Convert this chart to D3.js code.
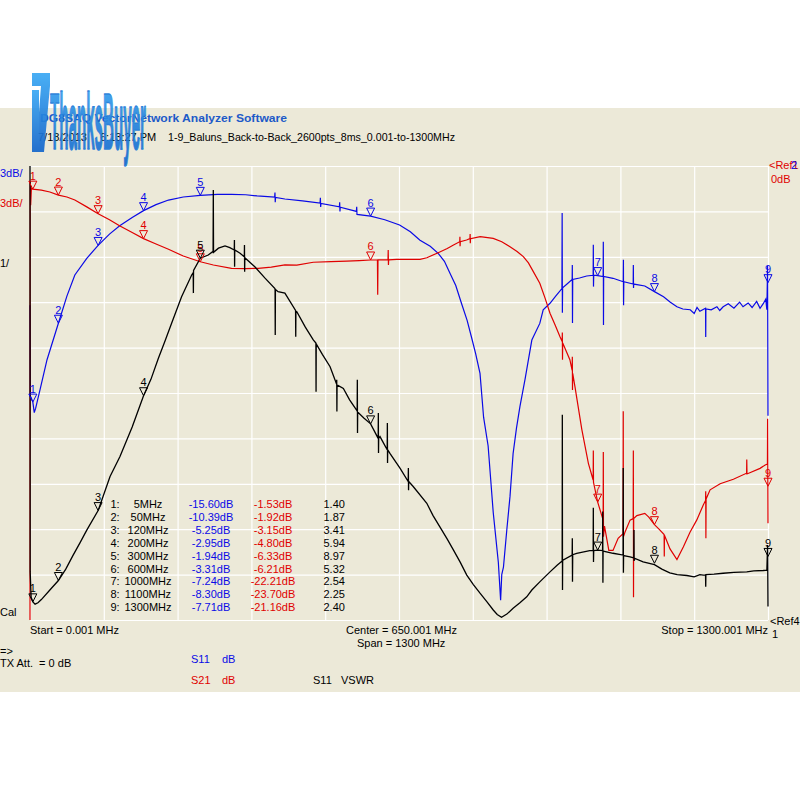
<!DOCTYPE html>
<html><head><meta charset="utf-8">
<script src="https://cdn.jsdelivr.net/npm/d3@7"></script>
<style>
body{margin:0;background:#fff}
svg{display:block}
text{font-family:"Liberation Sans",Arial,sans-serif}
</style>
</head><body><svg id="c" width="800" height="800"></svg>
<script>
// ---- Data (MHz, dB / VSWR) ----
const markerFreqs=[5,50,120,200,300,600,1000,1100,1300];
const markerS11=[-15.60,-10.39,-5.25,-2.95,-1.94,-3.31,-7.24,-8.30,-7.71];
const markerS21=[-1.53,-1.92,-3.15,-4.80,-6.33,-6.21,-22.21,-23.70,-21.16];
const markerVswr=[1.40,1.87,3.41,5.94,8.97,5.32,2.54,2.25,2.40];

const s11Trace=[[0,-9.2],[0.5,-15.2],[2,-15.3],[5,-15.6],[7.5,-16.3],[10,-16.0],[17.6,-14.8],[30,-12.8],[50,-10.39],[65,-8.6],[79,-7.2],[100,-6.1],[120,-5.25],[140,-4.5],[158,-3.95],[180,-3.4],[200,-2.95],[222,-2.55],[244,-2.25],[270,-2.05],[300,-1.94],[330,-1.88],[355,-1.87],[380,-1.9],[400,-1.98],[431,-2.05],[431.5,-1.75],[432,-2.4],[432.5,-2.08],[449,-2.18],[480,-2.3],[511,-2.45],[511.5,-2.1],[512,-2.7],[512.5,-2.47],[545,-2.7],[545.5,-2.4],[546,-3.0],[546.5,-2.72],[575,-3.0],[575.5,-2.7],[576,-3.2],[600,-3.31],[625,-3.55],[651,-3.9],[670,-4.35],[687,-4.9],[705,-5.3],[719,-5.77],[730,-6.3],[740,-7.1],[750,-7.9],[760,-9.07],[770,-10.2],[777.6,-11.3],[785,-12.4],[792.7,-13.7],[799,-16.6],[807,-18.5],[816,-22.9],[825,-26.2],[829,-28.7],[831,-27.0],[834,-26.5],[840,-24.0],[845.5,-21.85],[851,-19.0],[857,-17.3],[863,-15.9],[872,-14.1],[878,-12.8],[884,-11.5],[898,-10.4],[904,-9.5],[916,-9.07],[926,-8.6],[937,-8.1],[937.4,-3.1],[937.8,-9.7],[938.2,-8.05],[946,-7.8],[955,-7.5],[955.3,-6.54],[955.6,-10.37],[956,-7.5],[968,-7.4],[980.6,-7.27],[992,-7.22],[992.3,-5.2],[992.6,-7.97],[993,-7.22],[1000,-7.24],[1009.6,-7.3],[1009.9,-5.0],[1010.2,-10.5],[1010.5,-7.3],[1027,-7.42],[1045,-7.65],[1045.3,-6.2],[1045.6,-9.2],[1046,-7.65],[1057,-7.75],[1062.5,-7.8],[1062.8,-6.54],[1063.1,-8.06],[1063.4,-7.8],[1083,-7.93],[1100,-8.30],[1116,-8.64],[1128,-9.0],[1139.6,-9.3],[1150,-9.45],[1163,-9.5],[1170,-9.75],[1175,-9.35],[1180,-9.6],[1190,-9.4],[1190.3,-11.3],[1190.6,-9.45],[1200,-9.5],[1210,-9.3],[1215,-9.55],[1221,-9.3],[1230,-9.1],[1240,-9.4],[1250,-9.0],[1256,-9.3],[1265,-9.05],[1272,-9.35],[1280,-8.95],[1286,-9.4],[1291.6,-9.1],[1296,-8.8],[1298,-9.5],[1299.3,-6.6],[1300,-16.5]];

const s21Trace=[[0,-30],[0.3,-1.0],[1.2,-2.6],[2.5,-1.45],[5,-1.53],[20,-1.6],[35,-1.72],[50,-1.92],[65,-2.05],[79,-2.25],[100,-2.7],[120,-3.15],[140,-3.55],[158.5,-3.96],[180,-4.4],[200,-4.80],[222,-5.15],[244,-5.5],[270,-5.95],[300,-6.33],[323,-6.54],[355,-6.76],[380,-6.78],[402,-6.76],[425,-6.68],[449,-6.54],[470,-6.55],[499,-6.36],[530,-6.32],[558,-6.28],[580,-6.25],[600,-6.21],[612,-6.2],[612.5,-8.5],[613,-6.2],[630.6,-6.2],[631,-5.55],[631.4,-6.54],[631.8,-6.2],[646,-6.17],[687,-6.17],[699,-6.06],[719,-5.73],[735,-5.45],[746,-5.22],[757,-5.0],[757.3,-4.67],[757.6,-5.3],[758,-5.0],[769,-4.89],[775,-4.8],[775.3,-4.5],[775.6,-5.1],[776,-4.8],[793,-4.67],[816,-4.78],[831,-5.0],[845.5,-5.33],[858,-5.65],[869,-5.99],[878,-6.4],[886.6,-6.98],[898,-7.75],[907,-8.7],[916,-9.73],[925,-10.5],[933.6,-11.28],[937.4,-11.6],[937.7,-11.0],[938,-12.8],[938.4,-11.7],[951,-12.8],[955,-13.5],[955.3,-12.6],[955.6,-14.8],[956,-13.7],[960,-14.6],[966,-16.0],[972,-17.4],[983.6,-19.65],[992,-20.75],[992.3,-18.8],[992.6,-20.9],[1000,-22.21],[1009.6,-23.4],[1009.9,-18.9],[1010.2,-24.5],[1012,-23.8],[1019.6,-25.4],[1027,-25.4],[1036,-24.6],[1044.7,-24.3],[1045,-16.2],[1045.3,-24.5],[1048,-24.2],[1057,-23.4],[1062.5,-23.3],[1062.8,-18.8],[1063.1,-28.5],[1063.4,-23.3],[1069,-23.1],[1083,-22.95],[1090,-23.2],[1100,-23.7],[1108,-24.0],[1117,-24.35],[1117.3,-25.8],[1117.6,-24.4],[1127.4,-25.3],[1139.6,-26.0],[1151,-25.16],[1162.6,-24.2],[1174.4,-23.4],[1186,-22.4],[1190,-22.1],[1190.3,-21.5],[1190.6,-24.6],[1191,-22.0],[1198,-21.4],[1215.7,-21.0],[1239,-20.7],[1262.3,-20.3],[1262.6,-19.4],[1263,-20.35],[1286,-19.98],[1295,-19.76],[1299,-19.7],[1299.3,-16.7],[1300,-23.6]];

const vswrTrace=[[0,11.8],[0.3,2.06],[2,1.5],[5,1.40],[9,1.35],[14,1.38],[20,1.45],[35,1.66],[50,1.87],[63,2.12],[76,2.43],[88,2.7],[100,2.98],[120,3.41],[141,4.16],[158.5,4.6],[180,5.25],[200,5.94],[213,6.3],[226,6.76],[238,7.15],[249.6,7.54],[267,8.12],[284.8,8.6],[287.5,8.65],[287.8,8.2],[288.1,8.7],[300,8.97],[314,9.04],[322.5,9.12],[322.9,10.47],[323.3,9.1],[332,9.19],[343.5,9.24],[352,9.2],[359.8,9.15],[360.1,9.37],[360.4,8.78],[360.7,9.15],[370,9.08],[377.5,9.0],[377.8,9.26],[378.1,8.67],[378.4,8.98],[396,8.78],[414,8.53],[431.4,8.3],[431.7,8.27],[432,7.28],[432.3,8.28],[437,8.23],[449,8.2],[467.8,7.82],[468.1,7.24],[468.4,7.8],[470,7.79],[485,7.45],[499,7.17],[503.6,7.1],[503.9,6.03],[504.2,7.08],[515,6.85],[528.6,6.58],[540,6.2],[540.3,6.29],[540.6,5.59],[540.9,6.18],[552,6.1],[563,5.85],[575,5.63],[576.3,5.6],[576.6,6.29],[576.9,5.12],[577.2,5.58],[588,5.45],[600,5.32],[613.3,5.0],[613.6,5.56],[613.9,4.68],[614.2,5.0],[616.5,5.04],[629.2,4.75],[629.5,5.34],[629.8,4.46],[630.1,4.75],[634,4.67],[652,4.34],[666.2,4.05],[666.5,4.35],[666.8,3.86],[667.1,4.05],[675,3.94],[699,3.57],[710,3.3],[722,3.05],[735,2.78],[746,2.54],[758,2.27],[769.4,1.99],[781,1.78],[792.7,1.59],[805,1.4],[816,1.22],[823,1.12],[830.6,1.06],[840,1.13],[851,1.26],[863,1.38],[875,1.51],[884,1.66],[898,1.84],[907,1.95],[916,2.06],[928,2.2],[937.4,2.3],[937.7,5.52],[938,1.66],[938.3,2.32],[939,2.32],[955,2.43],[955.3,2.8],[955.6,1.84],[956,2.44],[963,2.47],[986,2.53],[992,2.53],[992.3,3.47],[992.6,2.28],[993,2.53],[1000,2.54],[1008.6,2.53],[1008.9,3.39],[1009.2,1.82],[1009.5,2.52],[1027,2.47],[1044.7,2.43],[1045,4.35],[1045.3,2.04],[1045.6,2.42],[1057,2.39],[1063.6,2.37],[1063.9,2.98],[1064.2,2.3],[1064.5,2.36],[1080,2.28],[1100,2.22],[1113,2.12],[1127,2.04],[1140,2.0],[1157,1.98],[1170,1.95],[1180,2.0],[1186,1.99],[1190,1.99],[1190.3,1.73],[1190.6,2.0],[1205,2.01],[1221,2.03],[1240,2.05],[1262.6,2.06],[1275,2.08],[1291.6,2.09],[1298,2.1],[1299.3,2.65],[1300,1.3]];

const xGridTicks=[0,130,260,390,520,650,780,910,1040,1170,1300];
const dbGridTicks=[0,-3,-6,-9,-12,-15,-18,-21,-24,-27,-30];

// ---- Layout ----
const svg=d3.select("#c");
const L=30,R=768,T=166,B=620;
const x=d3.scaleLinear().domain([0,1300]).range([L,R]);
const yDb=d3.scaleLinear().domain([-30,0]).range([B,T]);
const yV=d3.scaleLinear().domain([1,11]).range([B,T]);
const BLUE="#0a0ae6",RED="#e00000",BLACK="#000";
const FS="11px";

svg.append("rect").attr("x",0).attr("y",108).attr("width",800).attr("height",584).attr("fill","#ece9d8");

// grid
svg.append("g").attr("transform",`translate(0,${B})`)
  .call(d3.axisBottom(x).tickValues(xGridTicks).tickSize(-(B-T)).tickFormat(""))
  .call(g=>{g.select(".domain").remove();g.selectAll("line").attr("stroke","#fff").attr("stroke-width",1.2);});
svg.append("g").attr("transform",`translate(${L},0)`)
  .call(d3.axisLeft(yDb).tickValues(dbGridTicks).tickSize(-(R-L)).tickFormat(""))
  .call(g=>{g.select(".domain").remove();g.selectAll("line").attr("stroke","#fff").attr("stroke-width",1.2);});

// header
const hdr=svg.append("g").style("font-size",FS);
hdr.append("text").attr("x",40).attr("y",121.5).attr("fill","#1d5ac8").attr("font-weight","bold")
  .attr("textLength",247).attr("lengthAdjust","spacingAndGlyphs").text("DG8SAQ VectorNetwork Analyzer Software");
hdr.append("text").attr("x",38).attr("y",141).attr("fill","#000").text("7/18/2013");
hdr.append("text").attr("x",100).attr("y",141).attr("fill","#000").text("6:13:27 PM");
hdr.append("text").attr("x",168).attr("y",141).attr("fill","#000")
  .attr("textLength",287).attr("lengthAdjust","spacingAndGlyphs").text("1-9_Baluns_Back-to-Back_2600pts_8ms_0.001-to-1300MHz");

// side labels
const lab=(t,xx,yy,c,anchor)=>svg.append("text").attr("x",xx).attr("y",yy).attr("fill",c).style("font-size",FS).attr("text-anchor",anchor||"start").text(t);
lab("3dB/",0,177,BLUE);
lab("3dB/",0,207,RED);
lab("1/",0,267,BLACK);
lab("Cal",0,616,BLACK);
lab("<Ref1",769,169,RED);
lab("2",791,169,BLUE);
lab("0dB",771,183,RED);
lab("<Ref4",770,625,BLACK);
lab("1",772,638,BLACK);
lab("Start = 0.001 MHz",30,634,BLACK);
lab("Center = 650.001 MHz",346,634,BLACK);
lab("Span = 1300 MHz",357,647,BLACK);
lab("Stop = 1300.001 MHz",768,634,BLACK,"end");
lab("=>",0,655,BLACK);
lab("TX Att.  = 0 dB",0,667,BLACK).attr("xml:space","preserve");
lab("S11",191,663,BLUE);lab("dB",222,663,BLUE);
lab("S21",191,684,RED);lab("dB",222,684,RED);
lab("S11",313,684,BLACK);lab("VSWR",341,684,BLACK);

// traces
svg.append("clipPath").attr("id","clip").append("rect").attr("x",L-1).attr("y",T).attr("width",R-L+3).attr("height",B-T+1);
const plot=svg.append("g").attr("clip-path","url(#clip)");
const lineDb=d3.line().x(d=>x(d[0])).y(d=>yDb(d[1]));
const lineV=d3.line().x(d=>x(d[0])).y(d=>yV(d[1]));
plot.append("path").datum(s11Trace).attr("d",lineDb).attr("fill","none").attr("stroke",BLUE).attr("stroke-width",1.2);
plot.append("path").datum(s21Trace).attr("d",lineDb).attr("fill","none").attr("stroke",RED).attr("stroke-width",1.2);
plot.append("path").datum(vswrTrace).attr("d",lineV).attr("fill","none").attr("stroke",BLACK).attr("stroke-width",1.3);

// markers
function markers(vals,ys,c){
  const g=svg.append("g").style("font-size",FS);
  markerFreqs.forEach((f,i)=>{
    const px=x(f),py=ys(vals[i]);
    g.append("path").attr("d",`M${px-4},${py-8}L${px+4},${py-8}L${px},${py}Z`).attr("fill","none").attr("stroke",c).attr("stroke-width",1);
    g.append("text").attr("x",px).attr("y",py-9.5).attr("text-anchor","middle").attr("fill",c).text(i+1);
  });
}
markers(markerS11,yDb,BLUE);
markers(markerS21,yDb,RED);
markers(markerVswr,yV,BLACK);

// marker table
const tb=svg.append("g").style("font-size",FS);
markerFreqs.forEach((f,i)=>{
  const yy=508+i*12.9;
  tb.append("text").attr("x",110.5).attr("y",yy).attr("fill",BLACK).text((i+1)+":");
  tb.append("text").attr("x",148).attr("y",yy).attr("text-anchor","middle").attr("fill",BLACK).text(f+"MHz");
  tb.append("text").attr("x",211).attr("y",yy).attr("text-anchor","middle").attr("fill",BLUE).text(markerS11[i].toFixed(2)+"dB");
  tb.append("text").attr("x",273).attr("y",yy).attr("text-anchor","middle").attr("fill",RED).text(markerS21[i].toFixed(2)+"dB");
  tb.append("text").attr("x",323.5).attr("y",yy).attr("fill",BLACK).text(markerVswr[i].toFixed(2));
});

// logo watermark
const defs=svg.append("defs");
const gr=defs.append("linearGradient").attr("id","lg").attr("x1",0).attr("y1",0).attr("x2",0).attr("y2",1);
gr.append("stop").attr("offset","0%").attr("stop-color","#3aa8f4");
gr.append("stop").attr("offset","100%").attr("stop-color","#1466cc");
const logo=svg.append("g").attr("opacity",0.92);
logo.append("path").attr("d","M32,73 L50,73 L50,86 L44,152 L36,152 L41,86 L32,86 Z").attr("fill","url(#lg)");
logo.append("rect").attr("x",32).attr("y",90).attr("width",7).attr("height",62).attr("fill","url(#lg)");
logo.append("text").attr("x",50).attr("y",149).style("font-size","80px").attr("font-weight","bold")
  .attr("fill","url(#lg)").attr("stroke","#1c7ad8").attr("stroke-width",1.5)
  .attr("textLength",96).attr("lengthAdjust","spacingAndGlyphs").text("ThanksBuyer");
</script></body></html>
